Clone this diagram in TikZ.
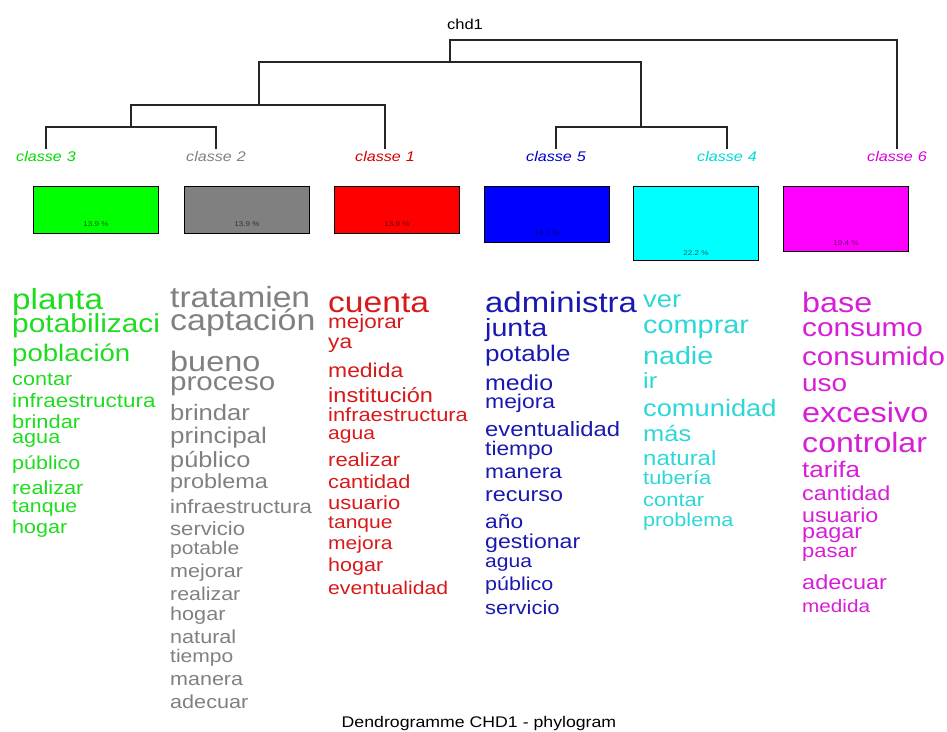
\documentclass[tikz,border=0pt]{standalone}
\usepackage{fontspec}
\setmainfont{Liberation Sans}
\newfontfamily\cloud[FakeStretch=1.15]{Liberation Sans}
\definecolor{cg}{RGB}{30,220,30}
\definecolor{cgr}{RGB}{128,128,128}
\definecolor{cr}{RGB}{215,25,25}
\definecolor{cb}{RGB}{25,25,175}
\definecolor{cc}{RGB}{45,215,215}
\definecolor{cm}{RGB}{215,30,215}
\definecolor{fg}{RGB}{0,255,0}
\definecolor{fgr}{RGB}{128,128,128}
\definecolor{fr}{RGB}{255,0,0}
\definecolor{fb}{RGB}{0,0,255}
\definecolor{fc}{RGB}{0,255,255}
\definecolor{fm}{RGB}{255,0,255}
\newcommand{\cw}[5]{\node[wordnode,text=#2] (#1) at (#3) {\fontsize{#4}{#4}\selectfont #5};}
\begin{document}
\begin{tikzpicture}[x=1pt,y=-1pt,
  wordnode/.style={anchor=base west,inner sep=0pt,font=\cloud},
  tree/.style={draw=black!85,line width=1.2pt},
  clabel/.style={anchor=base,inner sep=0pt,font=\cloud\itshape\fontsize{14}{14}\selectfont},
  cbox/.style={draw=black,line width=0.9pt,anchor=north west,inner sep=0pt,minimum width=125pt},
  pct/.style={anchor=center,inner sep=0pt,text=black,text opacity=0.6,font=\cloud\fontsize{7}{7}\selectfont}]
\useasboundingbox (0,0) rectangle (947,731);
% title nodes
\node[anchor=base,inner sep=0pt,font=\cloud\fontsize{14.4}{14.4}\selectfont] (chd) at (465,29) {chd1};
\node[anchor=base,inner sep=0pt,font=\cloud\fontsize{15.4}{15.4}\selectfont] (title) at (479,727) {Dendrogramme CHD1 - phylogram};
% tree
\coordinate (t3) at (46,149);
\coordinate (t2) at (216,149);
\coordinate (t1) at (385,149);
\coordinate (t5) at (556,149);
\coordinate (t4) at (727,149);
\coordinate (t6) at (897,149);
\coordinate (m32) at (131,127);
\coordinate (m321) at (259,105);
\coordinate (m54) at (641,127);
\coordinate (m15) at (450,62);
\coordinate (root) at (450,40);
\draw[tree] (t3) |- (m32) -| (t2);
\draw[tree] (m32) |- (m321) -| (t1);
\draw[tree] (t5) |- (m54) -| (t4);
\draw[tree] (m321) |- (m15) -| (m54);
\draw[tree] (m15) |- (root) -| (t6);
% class labels
\node[clabel,text=fg!85!black] (l3) at (46,161) {classe\hspace{5pt}3};
\node[clabel,text=cgr] (l2) at (216,161) {classe\hspace{5pt}2};
\node[clabel,text=fr!85!black] (l1) at (385,161) {classe\hspace{5pt}1};
\node[clabel,text=fb!80!black] (l5) at (556,161) {classe\hspace{5pt}5};
\node[clabel,text=fc!85!black] (l4) at (727,161) {classe\hspace{5pt}4};
\node[clabel,text=fm!85!black] (l6) at (897,161) {classe\hspace{5pt}6};
% boxes
\node[cbox,fill=fg,minimum height=47pt] (b3) at (33,186) {};
\node[cbox,fill=fgr,minimum height=47pt] (b2) at (184,186) {};
\node[cbox,fill=fr,minimum height=47pt] (b1) at (334,186) {};
\node[cbox,fill=fb,minimum height=56pt] (b5) at (484,186) {};
\node[cbox,fill=fc,minimum height=74pt] (b4) at (633,186) {};
\node[cbox,fill=fm,minimum height=65pt] (b6) at (783,186) {};
\node[pct] (p3) at ([yshift=10pt]b3.south) {13.9 \%};
\node[pct] (p2) at ([yshift=10pt]b2.south) {13.9 \%};
\node[pct] (p1) at ([yshift=10pt]b1.south) {13.9 \%};
\node[pct] (p5) at ([yshift=10pt]b5.south) {16.7 \%};
\node[pct] (p4) at ([yshift=8pt]b4.south) {22.2 \%};
\node[pct] (p6) at ([yshift=9pt]b6.south) {19.4 \%};
% green words
\cw{g1}{cg}{12,309}{29}{planta}
\cw{g2}{cg}{12,332}{26}{potabilizaci}
\cw{g3}{cg}{12,361}{24}{población}
\cw{g4}{cg}{12,385}{18.8}{contar}
\cw{g5}{cg}{12,407}{19.5}{infraestructura}
\cw{g6}{cg}{12,428}{19}{brindar}
\cw{g7}{cg}{12,443}{18.8}{agua}
\cw{g8}{cg}{12,469}{18.7}{público}
\cw{g9}{cg}{12,494}{18.9}{realizar}
\cw{g10}{cg}{12,512}{18.5}{tanque}
\cw{g11}{cg}{12,533}{18.7}{hogar}
% gray words
\cw{a1}{cgr}{170,307}{29.2}{tratamien}
\cw{a2}{cgr}{170,330}{29.5}{captación}
\cw{a3}{cgr}{170,371}{28.2}{bueno}
\cw{a4}{cgr}{170,390}{25.7}{proceso}
\cw{a5}{cgr}{170,420}{22.3}{brindar}
\cw{a6}{cgr}{170,443}{22.6}{principal}
\cw{a7}{cgr}{170,467}{22}{público}
\cw{a8}{cgr}{170,488}{20.4}{problema}
\cw{a9}{cgr}{170,513}{19.3}{infraestructura}
\cw{a10}{cgr}{170,535}{19.2}{servicio}
\cw{a11}{cgr}{170,554}{18.3}{potable}
\cw{a12}{cgr}{170,577}{18.7}{mejorar}
\cw{a13}{cgr}{170,600}{18.6}{realizar}
\cw{a14}{cgr}{170,620}{18.8}{hogar}
\cw{a15}{cgr}{170,643}{18.8}{natural}
\cw{a16}{cgr}{170,662}{18.3}{tiempo}
\cw{a17}{cgr}{170,685}{18.7}{manera}
\cw{a18}{cgr}{170,708}{18.8}{adecuar}
% red words
\cw{r1}{cr}{328,312}{29.2}{cuenta}
\cw{r2}{cr}{328,328}{19.5}{mejorar}
\cw{r3}{cr}{328,348}{19.7}{ya}
\cw{r4}{cr}{328,377}{19.9}{medida}
\cw{r5}{cr}{328,402}{20.5}{institución}
\cw{r6}{cr}{328,421}{19}{infraestructura}
\cw{r7}{cr}{328,439}{18.3}{agua}
\cw{r8}{cr}{328,466}{19.1}{realizar}
\cw{r9}{cr}{328,488}{18.9}{cantidad}
\cw{r10}{cr}{328,509}{19.1}{usuario}
\cw{r11}{cr}{328,528}{18.3}{tanque}
\cw{r12}{cr}{328,549}{18.3}{mejora}
\cw{r13}{cr}{328,571}{18.7}{hogar}
\cw{r14}{cr}{328,594}{18.4}{eventualidad}
% blue words
\cw{u1}{cb}{485,312}{28.6}{administra}
\cw{u2}{cb}{485,336}{24.9}{junta}
\cw{u3}{cb}{485,361}{22.6}{potable}
\cw{u4}{cb}{485,390}{21.7}{medio}
\cw{u5}{cb}{485,408}{19.9}{mejora}
\cw{u6}{cb}{485,436}{20.7}{eventualidad}
\cw{u7}{cb}{485,455}{19.7}{tiempo}
\cw{u8}{cb}{485,478}{19.7}{manera}
\cw{u9}{cb}{485,501}{20.3}{recurso}
\cw{u10}{cb}{485,528}{19.8}{año}
\cw{u11}{cb}{485,548}{20.1}{gestionar}
\cw{u12}{cb}{485,567}{18.3}{agua}
\cw{u13}{cb}{485,590}{18.7}{público}
\cw{u14}{cb}{485,614}{19.1}{servicio}
% cyan words
\cw{c1}{cc}{643,307}{23.8}{ver}
\cw{c2}{cc}{643,333}{25.1}{comprar}
\cw{c3}{cc}{643,364}{24.9}{nadie}
\cw{c4}{cc}{643,388}{22}{ir}
\cw{c5}{cc}{643,416}{23.7}{comunidad}
\cw{c6}{cc}{643,441}{22.1}{más}
\cw{c7}{cc}{643,465}{20.8}{natural}
\cw{c8}{cc}{643,484}{19}{tubería}
\cw{c9}{cc}{643,506}{19.1}{contar}
\cw{c10}{cc}{643,526}{18.8}{problema}
% magenta words
\cw{n1}{cm}{802,312}{28.1}{base}
\cw{n2}{cm}{802,336}{25.9}{consumo}
\cw{n3}{cm}{802,365}{25.7}{consumido}
\cw{n4}{cm}{802,391}{24.3}{uso}
\cw{n5}{cm}{802,422}{28.2}{excesivo}
\cw{n6}{cm}{802,452}{27.9}{controlar}
\cw{n7}{cm}{802,477}{22.6}{tarifa}
\cw{n8}{cm}{802,500}{20.3}{cantidad}
\cw{n9}{cm}{802,522}{20.2}{usuario}
\cw{n10}{cm}{802,538}{20.4}{pagar}
\cw{n11}{cm}{802,557}{19.1}{pasar}
\cw{n12}{cm}{802,589}{20.4}{adecuar}
\cw{n13}{cm}{802,612}{18}{medida}
\end{tikzpicture}
\end{document}
